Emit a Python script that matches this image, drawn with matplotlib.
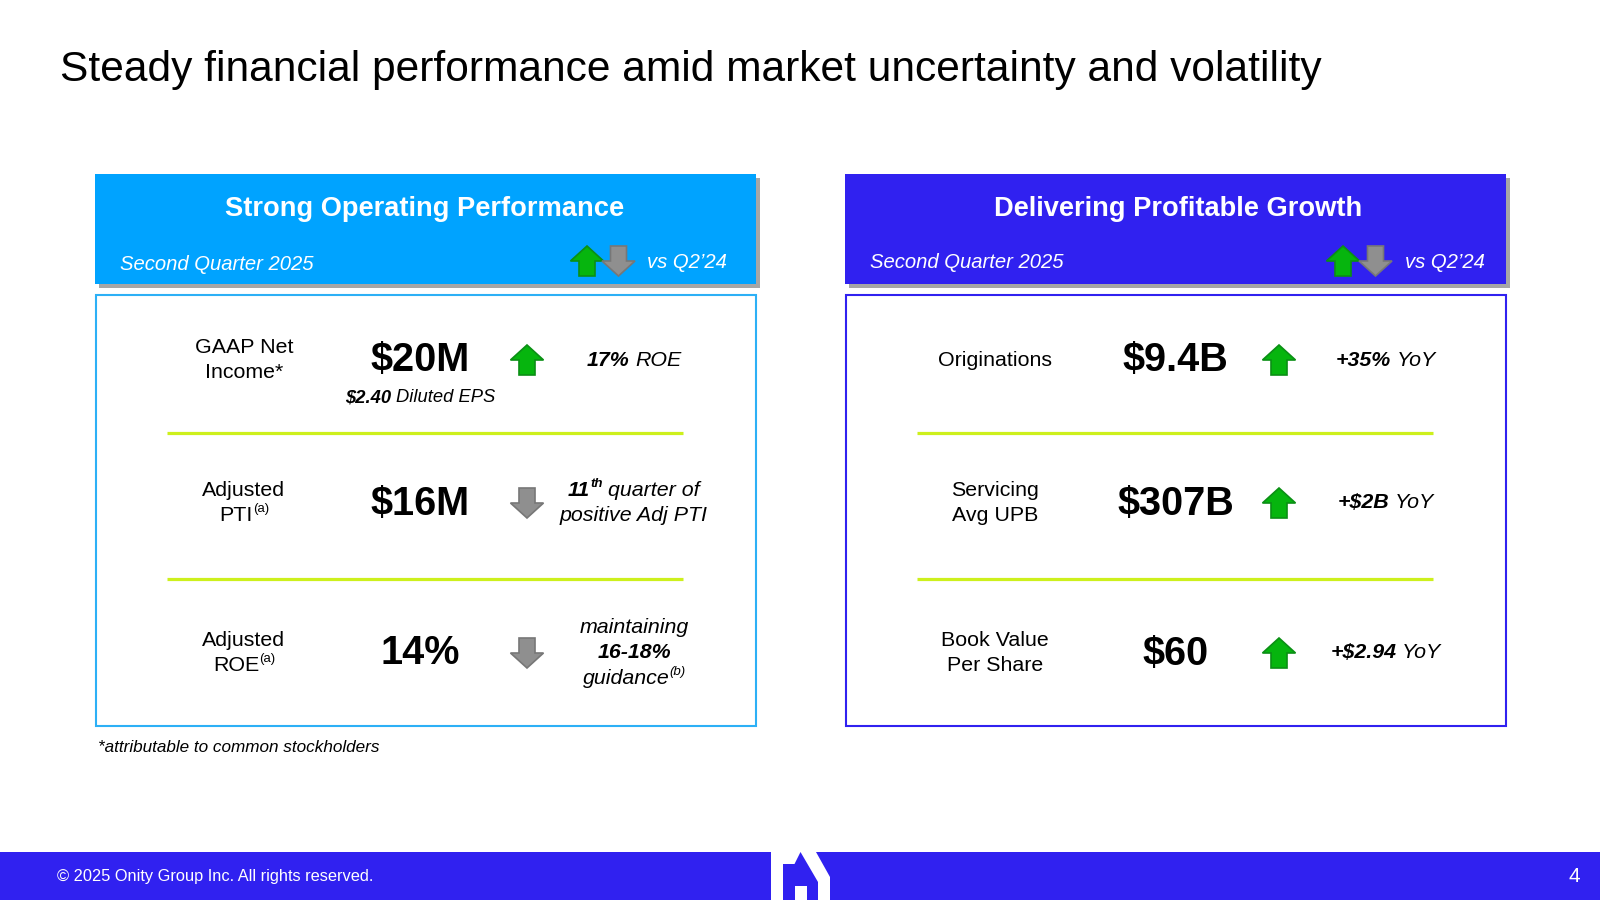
import matplotlib
matplotlib.use("Agg")
import matplotlib.pyplot as plt
from matplotlib.patches import Rectangle, Polygon
import matplotlib.patheffects as pe

plt.rcParams["font.family"] = ["Liberation Sans", "DejaVu Sans"]

# === Text / values ===
TITLE = "Steady financial performance amid market uncertainty and volatility"
PERIOD = "Second Quarter 2025"
VERSUS = "vs Q2\u201924"
FOOTNOTE = "*attributable to common stockholders"
FOOTER = "\u00a9 2025 Onity Group Inc. All rights reserved."
PAGE = "4"

left_title = "Strong Operating Performance"
left_labels = [
    [[("GAAP Net", "r")], [("Income*", "r")]],
    [[("Adjusted", "r")], [("PTI", "r"), ("(a)", "rsup")]],
    [[("Adjusted", "r")], [("ROE", "r"), ("(a)", "rsup")]],
]
left_values = ["$20M", "$16M", "14%"]
left_dirs = ["up", "down", "down"]
left_notes = [
    [[("17%", "b"), ("ROE", "i")]],
    [[("11", "b"), ("th", "bsup"), ("quarter of", "i")], [("positive Adj PTI", "i")]],
    [[("maintaining", "i")], [("16-18%", "b")], [("guidance", "i"), ("(b)", "isup")]],
]
eps_note = [("$2.40", "b"), ("Diluted EPS", "i")]

right_title = "Delivering Profitable Growth"
right_labels = [
    [[("Originations", "r")]],
    [[("Servicing", "r")], [("Avg UPB", "r")]],
    [[("Book Value", "r")], [("Per Share", "r")]],
]
right_values = ["$9.4B", "$307B", "$60"]
right_dirs = ["up", "up", "up"]
right_notes = [
    [[("+35%", "b"), ("YoY", "i")]],
    [[("+$2B", "b"), ("YoY", "i")]],
    [[("+$2.94", "b"), ("YoY", "i")]],
]

# === Colours ===
SKY = "#00A3FF"
SKY_EDGE = "#2CB0F6"
INDIGO = "#3021F0"
LIME = "#CDF01C"
GREEN, GREEN_EDGE = "#06B50E", "#0B8F15"
GREY, GREY_EDGE = "#8F8F8F", "#777777"

fig = plt.figure(figsize=(16, 9), dpi=100)
ax = fig.add_axes([0, 0, 1, 1])
ax.set_xlim(0, 1600)
ax.set_ylim(900, 0)
ax.axis("off")
renderer = fig.canvas.get_renderer()

ROW_Y = [360, 503, 653]
SEP_Y = [432.5, 578.5]
LINE_H = 25.5


def font_args(kind):
    return {
        "fontweight": "bold" if kind[0] == "b" else "normal",
        "fontstyle": "normal" if kind[0] == "r" else "italic",
    }


def draw_runs(cx, y, runs, size, color="black"):
    # mixed bold / italic / superscript line, centred on cx
    items = []
    total = 0
    for i, (txt, kind) in enumerate(runs):
        sup = kind.endswith("sup")
        s = size * 0.62 if sup else size
        t = ax.text(0, y - (size * 0.42 if sup else 0), txt, fontsize=s, color=color,
                    ha="left", va="center", parse_math=False, **font_args(kind))
        w = t.get_window_extent(renderer).width
        gap = size * 0.37 if (i > 0 and not sup) else 0
        items.append((t, total + gap))
        total += gap + w
    for t, off in items:
        t.set_x(cx - total / 2 + off)


def draw_block(cx, y, lines, size):
    first = y - LINE_H * (len(lines) - 1) / 2
    for i, line in enumerate(lines):
        draw_runs(cx, first + i * LINE_H, line, size)


def arrow(cx, top, direction, zorder=3):
    # block arrow, 32 wide and 30 tall
    hw, sw, h = 16.5, 8, 30
    if direction == "up":
        pts = [(cx, top), (cx + hw, top + h / 2), (cx + sw, top + h / 2), (cx + sw, top + h),
               (cx - sw, top + h), (cx - sw, top + h / 2), (cx - hw, top + h / 2)]
        fc, ec = GREEN, GREEN_EDGE
    else:
        pts = [(cx, top + h), (cx + hw, top + h / 2), (cx + sw, top + h / 2), (cx + sw, top),
               (cx - sw, top), (cx - sw, top + h / 2), (cx - hw, top + h / 2)]
        fc, ec = GREY, GREY_EDGE
    ax.add_patch(Polygon(pts, closed=True, fc=fc, ec=ec, lw=1.2, zorder=zorder))


def panel(x0, x1, head_col, edge_col, title, title_x, period_x, period_y, up_x, down_x, vs_x, vs_y,
          labels, values, dirs, notes, cols, sep):
    head = Rectangle((x0, 173.5), x1 - x0, 110, fc=head_col, ec="none", zorder=2)
    head.set_path_effects([pe.withSimplePatchShadow(offset=(3, -3), shadow_rgbFace="black", alpha=0.35)])
    ax.add_patch(head)
    ax.text(title_x, 209.5, title, color="white", fontsize=19.6, fontweight="bold",
            ha="center", va="center", zorder=4)
    ax.text(period_x, period_y, PERIOD, color="white", fontsize=14.6, fontstyle="italic",
            ha="left", va="center", zorder=4)
    arrow(up_x, 246, "up", zorder=3)
    arrow(down_x, 246, "down", zorder=4)
    ax.text(vs_x, vs_y, VERSUS, color="white", fontsize=14.6, fontstyle="italic",
            ha="left", va="center", zorder=4)

    ax.add_patch(Rectangle((x0 + 0.5, 295), x1 - x0 - 1, 430.5, fc="white", ec=edge_col, lw=1.5, zorder=1))
    for y in SEP_Y:
        ax.plot(sep, [y, y], color=LIME, lw=2.3, solid_capstyle="butt", zorder=2)

    for i, y in enumerate(ROW_Y):
        draw_block(cols[0], y, labels[i], 15.4)
        ax.text(cols[1], y + 0.5, values[i], fontsize=28.5, fontweight="bold", ha="center", va="center",
                parse_math=False, zorder=4)
        arrow(cols[2], y - 15, dirs[i])
        draw_block(cols[3], y, notes[i], 15.4)


panel(95, 756, SKY, SKY_EDGE, left_title, 425, 119.5, 265, 587, 618.5, 647, 262,
      left_labels, left_values, left_dirs, left_notes, [244, 420, 527, 634], [167, 683])
panel(845, 1506, INDIGO, INDIGO, right_title, 1178, 870.5, 263, 1343, 1375.5, 1405, 262,
      right_labels, right_values, right_dirs, right_notes, [995, 1175.5, 1279, 1386], [917, 1433])

draw_runs(420.5, 398, eps_note, 13.2)

ax.text(60, 70, TITLE, fontsize=30.6, ha="left", va="center", color="black")
ax.text(98, 747, FOOTNOTE, fontsize=12.3, fontstyle="italic", ha="left", va="center")

# === Footer ===
ax.add_patch(Rectangle((0, 852), 1600, 48, fc=INDIGO, ec="none", zorder=2))
ax.add_patch(Polygon([(771, 900), (771, 852), (816, 852), (830, 877), (830, 900)], closed=True,
                     fc="white", ec="none", zorder=3))
ax.add_patch(Polygon([(783, 900), (783, 864), (794.5, 864), (800.5, 852), (818, 882), (818, 900)], closed=True,
                     fc=INDIGO, ec="none", zorder=4))
ax.add_patch(Rectangle((795, 886), 12, 14, fc="white", ec="none", zorder=5))
ax.text(57, 876, FOOTER, fontsize=11.8, color="white", ha="left", va="center", zorder=5)
ax.text(1574, 877, PAGE, fontsize=15, color="white", ha="center", va="center", zorder=5)

fig.savefig("out.png", dpi=100, facecolor="white")
